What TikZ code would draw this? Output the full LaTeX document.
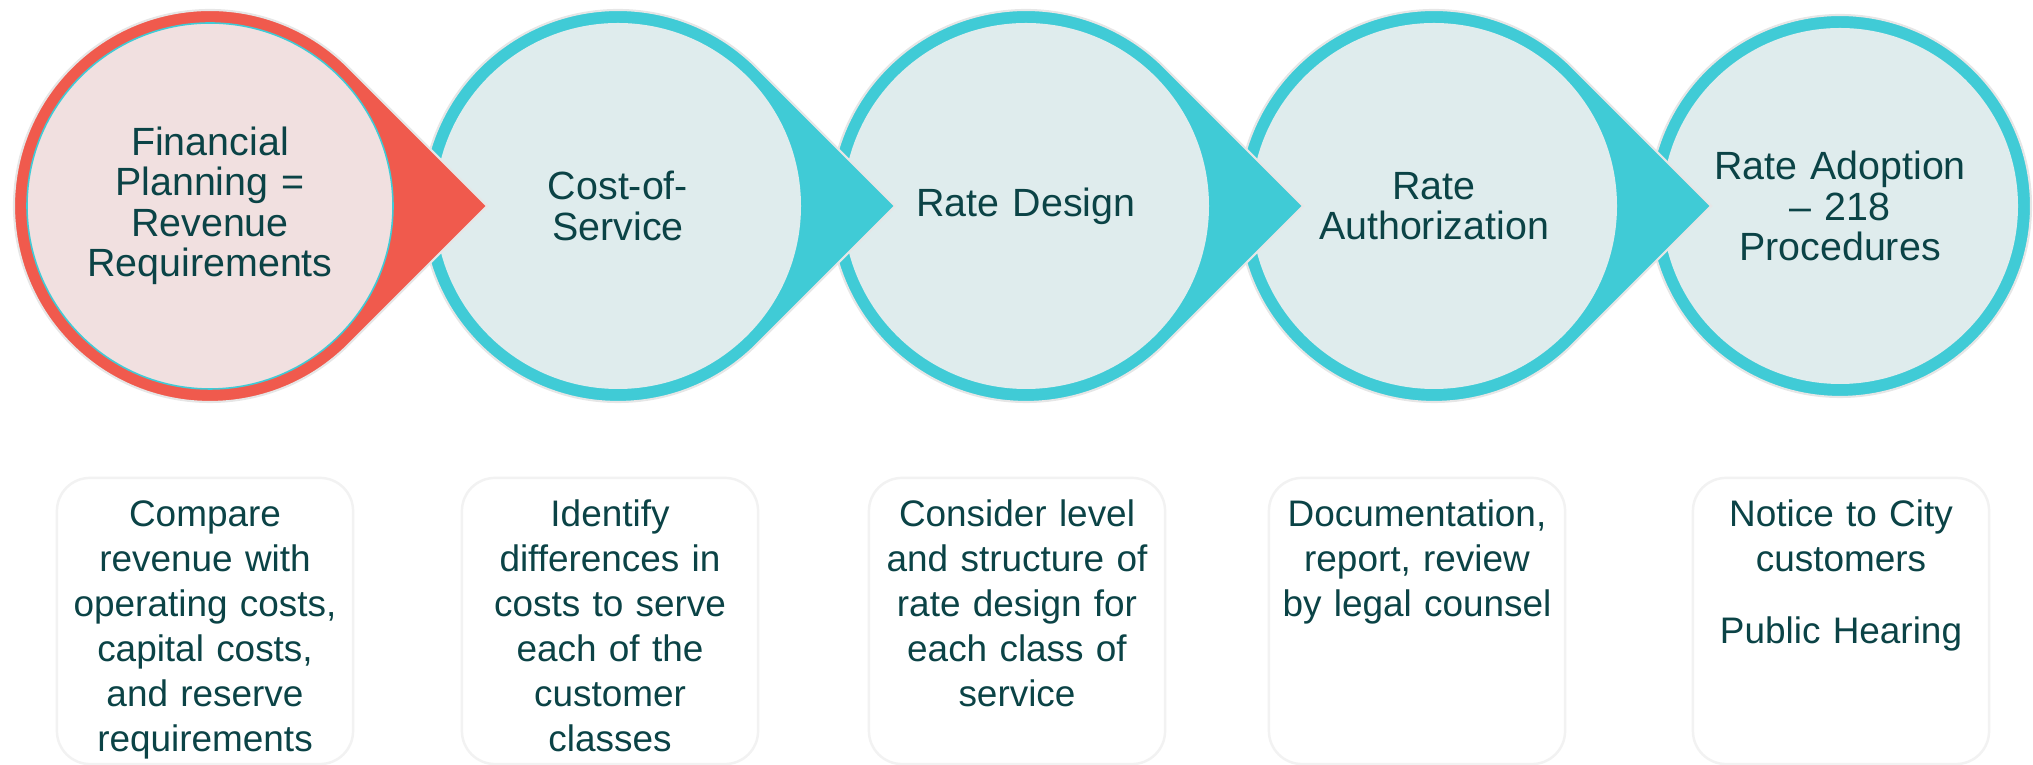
\documentclass[tikz,border=0pt]{standalone}
\usepackage{fontspec}
\setmainfont{Liberation Sans}
\usepackage{xcolor}
\usetikzlibrary{positioning}
\definecolor{ringcyan}{HTML}{40CBD6}
\definecolor{ringred}{HTML}{F05A4D}
\definecolor{palecyan}{HTML}{DFECED}
\definecolor{palepink}{HTML}{F1E0E0}
\definecolor{darkteal}{HTML}{0B4346}
\definecolor{rimgray}{HTML}{E6E6E6}
% teardrop step: centre x, ring colour, inner fill
\newcommand{\stepdrop}[3]{%
  \filldraw[fill=#2, draw=rimgray, line width=0.6pt]
    (#1,-206) ++(45:196) arc[start angle=45, end angle=315, radius=196]
    -- ++(45:196) -- cycle;
  \fill[#3] (#1,-206) circle[radius=183];
}

\begin{document}
\begin{tikzpicture}[
  x=0.01cm, y=0.01cm,
  steplabel/.style={text=darkteal, font=\fontsize{11.2}{11.5}\selectfont, align=center, text width=3.4cm, inner sep=0pt},
  notebox/.style={draw=black!5, fill=white, line width=0.7pt, rounded corners=0.33cm, minimum width=2.96cm, minimum height=2.86cm, inner sep=0pt},
  notetext/.style={text=darkteal, font=\fontsize{10.5}{12.8}\selectfont, align=center, text width=2.96cm, inner sep=0pt, anchor=base},
]
  \useasboundingbox (0,0) rectangle (2033,-765);

  % Steps, drawn right to left so each tip lies over the next circle
  \filldraw[fill=ringcyan, draw=rimgray, line width=0.6pt] (1840,-206) circle[radius=191];
  \fill[palecyan] (1840,-206) circle[radius=178];
  \stepdrop{1434}{ringcyan}{palecyan}
  \stepdrop{1026}{ringcyan}{palecyan}
  \stepdrop{618}{ringcyan}{palecyan}
  \stepdrop{210}{ringred}{palepink}
  \draw[ringcyan, line width=0.45pt] (210,-206) circle[radius=183];

  % Step labels
  \node[steplabel] (s1) at (210,-206) {Financial\\Planning =\\Revenue\\Requirements};
  \node[steplabel] (s2) at (618,-206) {Cost-of-\\Service};
  \node[steplabel] (s3) at (1026,-206) {Rate Design};
  \node[steplabel] (s4) at (1434,-206) {Rate\\Authorization};
  \node[steplabel] (s5) at (1840,-206) {Rate Adoption\\– 218\\Procedures};

  % Notes under each step
  \node[notebox] (b1) at (205,-621) {};
  \node[notebox] (b2) at (610,-621) {};
  \node[notebox] (b3) at (1017,-621) {};
  \node[notebox] (b4) at (1417,-621) {};
  \node[notebox] (b5) at (1841,-621) {};

  \node[notetext] (n1) at ([yshift=-0.5cm]b1.north) {Compare\\revenue with\\operating costs,\\capital costs,\\and reserve\\requirements};
  \node[notetext] (n2) at ([yshift=-0.5cm]b2.north) {Identify\\differences in\\costs to serve\\each of the\\customer\\classes};
  \node[notetext] (n3) at ([yshift=-0.5cm]b3.north) {Consider level\\and structure of\\rate design for\\each class of\\service};
  \node[notetext] (n4) at ([yshift=-0.5cm]b4.north) {Documentation,\\report, review\\by legal counsel};
  \node[notetext] (n5) at ([yshift=-0.5cm]b5.north) {Notice to City\\customers\\[7.7pt]Public Hearing};
\end{tikzpicture}
\end{document}
